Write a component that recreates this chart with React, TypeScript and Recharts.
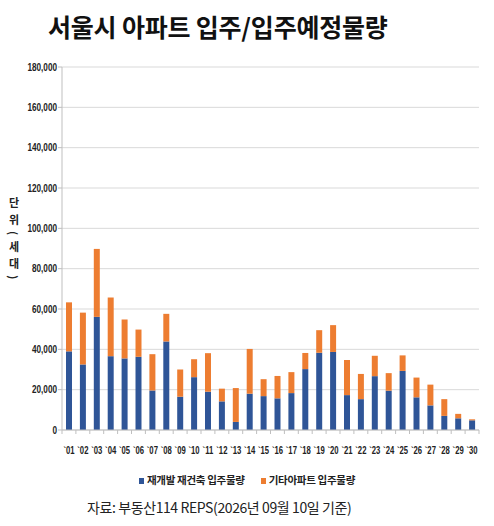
import { BarChart, Bar, XAxis, YAxis, CartesianGrid } from "recharts"

// years shown on the x axis ('01 .. '30)
const years = [
  "01", "02", "03", "04", "05", "06", "07", "08", "09", "10",
  "11", "12", "13", "14", "15", "16", "17", "18", "19", "20",
  "21", "22", "23", "24", "25", "26", "27", "28", "29", "30",
]

// 재개발 재건축 입주물량 (blue, bottom of stack)
const redevelopment = [
  39000, 32500, 56100, 36600, 35500, 36300, 19600, 43900, 16500, 26200,
  19000, 14200, 4000, 18000, 16800, 15700, 18300, 30200, 38300, 38700,
  17300, 15300, 26700, 19500, 29300, 16200, 12200, 7000, 5800, 4800,
]

// 기타아파트 입주물량 (orange, top of stack)
const otherApt = [
  24300, 25700, 33700, 29100, 19300, 13500, 18000, 13700, 13500, 8900,
  19100, 6300, 16800, 22200, 8400, 11100, 10400, 8000, 11200, 13300,
  17400, 12500, 10100, 8700, 7700, 9800, 10300, 8300, 2200, 500,
]

const yTicks = [0, 20000, 40000, 60000, 80000, 100000, 120000, 140000, 160000, 180000]

const BLUE = "#2f5597"
const ORANGE = "#ed7d31"
const AXIS = "#bfbfbf"
const NARROW = "'Liberation Sans', Arial, sans-serif"
const KR = "'Noto Sans CJK KR', 'Noto Sans', sans-serif"

const W = 494
const H = 526
const PLOT_LEFT = 62
const PLOT_RIGHT = 479
const PLOT_TOP = 67
const PLOT_BOTTOM = 430
const STEP = (PLOT_RIGHT - PLOT_LEFT) / years.length

const data = years.map((y, i) => ({
  year: y,
  redevelopment: redevelopment[i],
  otherApt: otherApt[i],
}))

// x tick: label under the bar plus Excel-style marks between categories
function YearTick(props: any) {
  const { x, payload, index } = props
  const left = x - STEP / 2
  return (
    <g>
      <line x1={left} x2={left} y1={PLOT_BOTTOM} y2={PLOT_BOTTOM + 4} stroke={AXIS} />
      {index === years.length - 1 && (
        <line x1={x + STEP / 2} x2={x + STEP / 2} y1={PLOT_BOTTOM} y2={PLOT_BOTTOM + 4} stroke={AXIS} />
      )}
      <g transform={`translate(${x}, ${PLOT_BOTTOM + 24}) scale(0.7, 1)`}>
        <text
          x={0}
          y={0}
          textAnchor="middle"
          fontFamily={NARROW}
          fontWeight="bold"
          fontSize={11}
          fill="#222"
        >
          {"`" + payload.value}
        </text>
      </g>
    </g>
  )
}

// y tick: narrow bold numbers right-aligned next to the axis
function ValueTick(props: any) {
  const { y, payload } = props
  const label = Number(payload.value).toLocaleString("en-US")
  return (
    <g transform={`translate(${PLOT_LEFT - 5}, ${y + 3.5}) scale(0.78, 1)`}>
      <text
        x={0}
        y={0}
        textAnchor="end"
        fontFamily={NARROW}
        fontWeight="bold"
        fontSize={10.5}
        fill="#222"
      >
        {label}
      </text>
    </g>
  )
}

function LegendSwatch({ color }: { color: string }) {
  return (
    <span
      style={{
        display: "inline-block",
        width: 5,
        height: 6,
        background: color,
        marginRight: 3,
        verticalAlign: "middle",
      }}
    />
  )
}

export default function App() {
  return (
    <div
      style={{
        position: "absolute",
        left: 0,
        top: 0,
        width: W,
        height: H,
        background: "#fff",
        overflow: "hidden",
      }}
    >
      <div
        style={{
          position: "absolute",
          left: 48,
          top: 8,
          fontFamily: KR,
          fontWeight: 700,
          fontSize: 25,
          letterSpacing: -0.2,
          color: "#111",
          whiteSpace: "nowrap",
          lineHeight: "36px",
        }}
      >
        서울시 아파트 입주/입주예정물량
      </div>

      <div
        style={{
          position: "absolute",
          left: 6,
          top: 197,
          writingMode: "vertical-rl",
          fontFamily: KR,
          fontWeight: 700,
          fontSize: 11,
          color: "#222",
          lineHeight: "16px",
          letterSpacing: 6,
        }}
      >
        단위(세대)
      </div>

      <div style={{ position: "absolute", left: 0, top: 0 }}>
        <BarChart
          width={W}
          height={H}
          data={data}
          margin={{ top: PLOT_TOP, right: W - PLOT_RIGHT, bottom: H - PLOT_BOTTOM - 30, left: 0 }}
          barSize={6}
        >
          <CartesianGrid vertical={false} stroke="#d9d9d9" />
          <XAxis
            dataKey="year"
            stroke={AXIS}
            tickLine={false}
            height={30}
            interval={0}
            tick={<YearTick />}
          />
          <YAxis
            width={PLOT_LEFT}
            domain={[0, 180000]}
            ticks={yTicks}
            stroke={AXIS}
            tickSize={4}
            tickMargin={2}
            tick={<ValueTick />}
          />
          <Bar dataKey="redevelopment" stackId="a" fill={BLUE} isAnimationActive={false} />
          <Bar dataKey="otherApt" stackId="a" fill={ORANGE} isAnimationActive={false} />
        </BarChart>
      </div>

      <div
        style={{
          position: "absolute",
          left: 0,
          width: W,
          top: 472,
          textAlign: "center",
          fontFamily: KR,
          fontWeight: 700,
          fontSize: 10.5,
          color: "#222",
          whiteSpace: "nowrap",
          letterSpacing: -0.3,
        }}
      >
        <span style={{ marginRight: 16 }}>
          <LegendSwatch color={BLUE} />
          재개발 재건축 입주물량
        </span>
        <span>
          <LegendSwatch color={ORANGE} />
          기타아파트 입주물량
        </span>
      </div>

      <div
        style={{
          position: "absolute",
          left: 87,
          top: 497,
          fontFamily: KR,
          fontSize: 14,
          color: "#222",
          whiteSpace: "nowrap",
          letterSpacing: -0.4,
        }}
      >
        자료: 부동산114 REPS(2026년 09월 10일 기준)
      </div>
    </div>
  )
}
